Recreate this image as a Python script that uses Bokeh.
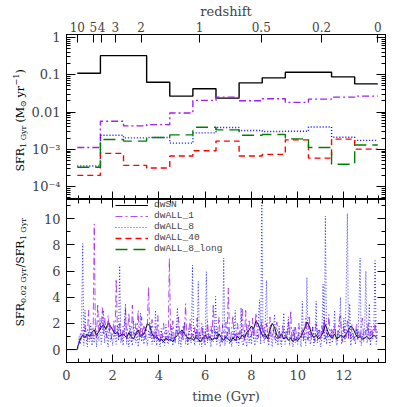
import numpy as np
from bokeh.plotting import figure
from bokeh.models import FixedTicker, LinearAxis, LogAxis, Legend, LegendItem, Range1d
from bokeh.core.properties import value
from bokeh.layouts import column, row
from bokeh.embed import file_html
from bokeh.resources import INLINE

# ---------------- cosmology for the redshift axis (flat LCDM) ----------------
H0 = 70.0
OM = 0.3
OL = 0.7


def age_gyr(z):
    pref = 977.8 / H0 * 2.0 / (3.0 * np.sqrt(OL))
    return float(pref * np.arcsinh(np.sqrt(OL / OM) * (1.0 + float(z)) ** -1.5))


T0 = age_gyr(0.0)
z_ticks = [10, 5, 4, 3, 2, 1, 0.5, 0.2, 0]
z_labels = ["10", "5", "4", "3", "2", "1", "0.5", "0.2", "0"]

# ---------------- top panel: SFR averaged over 1 Gyr bins ----------------
lookback_edges = [13, 12, 11, 10, 9, 8, 7, 6, 5, 4, 3, 2, 1, 0]
sfr_dwSN = [0.11, 0.325, 0.325, 0.063, 0.0267, 0.042, 0.0236, 0.0607, 0.0826, 0.117, 0.117, 0.0877, 0.057]
sfr_dwALL_1 = [1.12e-3, 5.65e-3, 4.24e-3, 4.6e-3, 9.4e-3, 0.0205, 0.0251, 0.0201, 0.0227, 0.0181, 0.0222, 0.0251, 0.0267]
sfr_dwALL_8 = [3.56e-4, 2.39e-3, 2.03e-3, 2.07e-3, 1.46e-3, 2.75e-3, 3.84e-3, 3.19e-3, 3.0e-3, 3.06e-3, 3.98e-3, 2.11e-3, 1.73e-3]
sfr_dwALL_40 = [2.0e-4, 7.76e-4, 3.7e-4, 3.15e-4, 6.6e-4, 9.1e-4, 1.66e-3, 6.6e-4, 7.3e-4, 1.79e-3, 5.8e-4, 1.87e-3, 1.01e-3]
sfr_dwALL_8_long = [3.3e-4, 1.84e-3, 1.66e-3, 2.07e-3, 2.44e-3, 3.9e-3, 3.31e-3, 2.39e-3, 2.49e-3, 1.9e-3, 1.12e-3, 3.96e-4, 1.3e-3]

# ---------------- bottom panel: SFR_0.02Gyr / SFR_1Gyr ----------------
t_start = [0.0, 0.46]
ratio_start = [0.0, 0.0]
ratio_dwSN = [
    0.3, 0.8, 1.1, 0.9, 1.2, 1.0, 1.3, 1.5, 1.1, 1.4,
    1.7, 1.9, 1.6, 2.0, 1.8, 1.5, 1.2, 1.3, 1.0, 1.2,
    1.1, 0.9, 1.3, 1.0, 0.8, 1.2, 1.5, 1.0, 1.1, 1.4,
    2.0, 1.8, 1.2, 0.9, 1.0, 0.7, 0.8, 0.6, 0.9, 0.7,
    0.8, 0.6, 0.9, 1.1, 1.3, 1.5, 1.2, 1.0, 0.8, 0.9,
    0.7, 1.0, 0.8, 0.6, 0.9, 1.1, 0.8, 1.0, 0.7, 0.9,
    0.8, 1.2, 0.9, 0.7, 1.0, 0.8, 0.6, 0.9, 0.7, 1.0,
    0.8, 1.1, 0.9, 1.3, 1.5, 1.8, 1.6, 2.2, 1.9, 1.4,
    1.0, 1.2, 0.8, 1.5, 2.0, 1.7, 1.1, 0.9, 1.2, 0.8,
    1.0, 0.7, 0.9, 0.6, 0.8, 0.7, 0.9, 1.2, 1.6, 2.1,
    1.8, 1.2, 0.9, 1.1, 0.8, 1.0, 1.3, 1.9, 1.4, 1.0,
    0.9, 1.2, 0.8, 1.0, 1.1, 0.9, 1.2, 1.5, 1.8, 1.6,
    1.2, 0.9, 1.0, 0.8, 0.9, 1.0, 0.8, 0.9, 1.1, 0.9,
]
ratio_dwALL_1 = [
    0.2, 0.6, 1.2, 0.8, 1.5, 0.9, 1.8, 1.1, 0.7, 3.0, 1.2, 0.8, 1.6, 1.0, 9.6, 1.4, 0.9, 3.5, 1.3, 2.0,
    1.5, 3.2, 1.1, 2.4, 1.7, 0.9, 2.6, 1.3, 1.9, 0.8, 1.4, 2.2, 1.0, 5.4, 1.6, 0.9, 2.1, 1.2, 0.7, 1.8,
    1.1, 3.1, 0.8, 1.6, 2.8, 1.0, 0.6, 3.4, 1.3, 0.9, 2.0, 1.2, 3.0, 0.7, 1.5, 2.5, 1.0, 1.8, 0.8, 1.3,
    2.0, 4.8, 1.4, 0.9, 2.3, 1.1, 0.6, 1.7, 0.8, 2.6, 1.2, 0.5, 1.4, 0.9, 2.0, 1.1, 0.7, 1.3, 0.8, 7.0,
    1.5, 0.8, 2.2, 1.0, 0.6, 1.8, 1.2, 2.5, 0.9, 1.4, 0.7, 1.9, 1.1, 3.5, 1.0, 0.6, 1.6, 2.3, 0.9, 1.2,
    0.8, 1.7, 1.0, 2.4, 0.6, 1.3, 0.9, 2.0, 1.1, 0.5, 1.5, 0.8, 2.2, 1.0, 0.7, 1.8, 1.2, 3.5, 0.9, 1.4,
    0.7, 1.6, 2.5, 1.0, 0.6, 1.9, 1.2, 0.8, 2.1, 1.1, 4.7, 1.3, 0.7, 1.7, 2.6, 0.9, 1.2, 0.6, 2.0, 1.0,
    1.4, 0.8, 3.2, 1.1, 0.7, 3.0, 1.3, 0.9, 2.2, 1.5, 1.0, 2.4, 0.8, 1.6, 2.8, 1.2, 0.9, 1.8, 1.1, 2.3,
    1.0, 1.7, 0.8, 2.0, 1.3, 0.6, 2.5, 1.1, 0.9, 1.6, 0.7, 1.2, 2.1, 0.8, 1.5, 1.0, 0.6, 1.9, 1.2, 0.8,
    1.4, 0.9, 2.2, 1.1, 3.0, 0.8, 1.5, 0.6, 1.8, 1.0, 0.7, 2.0, 1.2, 0.9, 1.6, 0.8, 1.3, 2.4, 1.0, 0.7,
    2.6, 1.2, 0.8, 1.7, 1.0, 0.6, 2.1, 1.3, 0.9, 1.5, 0.7, 1.9, 1.1, 2.5, 0.8, 1.4, 1.0, 2.7, 1.2, 0.9,
    1.6, 0.8, 2.0, 1.1, 0.7, 1.4, 2.3, 2.7, 1.0, 0.6, 1.8, 1.2, 0.9, 2.2, 1.0, 1.5, 0.8, 1.9, 1.3, 0.7,
    1.2, 2.0, 0.9, 1.4, 0.6, 1.7, 2.4, 1.0, 0.8, 1.5, 1.1, 2.1, 0.7, 1.3, 1.8, 0.9, 1.2, 2.2, 1.0, 1.4,
]
ratio_dwALL_8 = [
    0.1, 1.0, 0.4, 1.6, 8.1, 0.3, 3.0, 0.9, 0.2, 1.4, 0.6, 2.0, 0.3, 1.1, 0.5, 1.8, 0.2, 1.2, 0.7, 2.4,
    0.4, 1.3, 3.0, 0.5, 1.7, 0.8, 0.2, 2.1, 0.6, 1.0, 0.3, 1.5, 0.9, 0.4, 1.9, 0.7, 6.4, 0.5, 1.2, 0.3,
    1.6, 3.5, 0.4, 1.1, 0.2, 1.8, 0.7, 0.3, 2.2, 0.9, 0.5, 1.4, 0.2, 1.0, 2.8, 0.6, 1.3, 0.4, 1.7, 0.8,
    0.3, 1.5, 0.9, 2.0, 0.4, 1.2, 0.6, 3.0, 0.3, 1.1, 0.8, 0.2, 1.6, 0.5, 1.0, 0.3, 1.9, 0.7, 0.4, 1.3,
    0.6, 1.8, 0.3, 1.0, 0.5, 1.4, 3.2, 0.4, 0.9, 0.2, 1.5, 0.7, 2.1, 0.4, 1.1, 0.3, 1.6, 0.8, 0.5, 6.45,
    0.9, 0.3, 1.4, 0.6, 5.2, 0.4, 1.2, 0.2, 1.8, 0.7, 0.3, 5.95, 0.5, 1.3, 0.8, 0.2, 1.5, 0.6, 1.0, 4.05,
    0.4, 1.6, 0.7, 0.2, 1.3, 0.5, 7.0, 0.3, 1.1, 0.6, 1.7, 0.4, 0.9, 0.2, 1.4, 0.7, 3.0, 0.5, 1.2, 0.3,
    1.0, 3.2, 0.6, 0.3, 1.5, 0.8, 0.2, 1.9, 0.5, 1.1, 0.4, 1.7, 0.9, 0.3, 1.3, 0.6, 2.2, 3.8, 0.4, 11.8,
    1.2, 0.5, 2.0, 5.3, 0.7, 0.3, 1.4, 0.9, 0.2, 1.6, 2.7, 0.5, 1.0, 0.3, 1.8, 0.6, 0.2, 1.2, 2.8, 0.4,
    0.8, 1.5, 2.5, 0.3, 1.1, 0.6, 0.2, 1.7, 0.5, 1.0, 0.4, 1.3, 0.7, 0.2, 3.7, 0.6, 1.2, 0.3, 5.5, 0.8,
    1.4, 0.4, 0.9, 1.8, 0.3, 1.1, 3.7, 0.5, 1.5, 0.7, 0.2, 1.0, 5.0, 0.6, 10.2, 0.4, 1.3, 0.8, 0.3, 1.6,
    0.5, 1.2, 3.0, 0.7, 0.3, 1.5, 0.9, 4.0, 0.4, 1.1, 2.4, 0.6, 4.5, 10.4, 0.8, 3.5, 0.3, 1.4, 0.7, 1.0,
    0.4, 1.6, 0.7, 3.0, 7.0, 0.3, 1.2, 0.6, 1.8, 6.0, 0.5, 1.0, 3.5, 0.3, 1.4, 0.8, 2.2, 6.8, 0.4, 1.1,
]

series_names = ["dwSN", "dwALL_1", "dwALL_8", "dwALL_40", "dwALL_8_long"]
colors = ["black", "#a020f0", "#0000ff", "#ff0000", "#008000"]
dashes = ["solid", "7 3 2 3", "1 2", "6 4", "12 6"]

SERIF = "DejaVu Serif"
XMAX = 13.8

# ---------------- derived positions ----------------
edges = [T0 - lb for lb in lookback_edges]
t_black = t_start + [0.5 + 0.1 * i for i in range(len(ratio_dwSN))]
t_fine = t_start + [0.5 + 0.05 * i for i in range(len(ratio_dwALL_1))]

x_major = [0, 2, 4, 6, 8, 10, 12]
x_minor = [0.5 * i for i in range(0, 28)]

TITLE_W = 28  # width of the column holding the rotated titles
LEFT = 35     # px from the title column to the frames
RIGHT = 13
W = 370
H1 = 199      # top figure (33 px border + 166 px frame)
H2 = 207      # bottom figure (164 px frame + 43 px border)


def style_axis(ax, ticks, minor, major_in=8, minor_in=4, labels=True, size="13px",
               standoff=6):
    ax.ticker = FixedTicker(ticks=ticks, minor_ticks=minor)
    ax.major_tick_in = major_in
    ax.major_tick_out = 0
    ax.minor_tick_in = minor_in
    ax.minor_tick_out = 0
    ax.axis_line_color = "black"
    ax.major_tick_line_color = "black"
    ax.minor_tick_line_color = "black" if minor_in else None
    ax.major_label_text_font = SERIF
    if labels:
        ax.major_label_text_font_size = size
        ax.major_label_standoff = standoff
    else:
        ax.major_label_overrides = {t: "" for t in ticks}
        ax.major_label_text_font_size = "1px"
        ax.major_label_standoff = 0


def bare(fig):
    fig.grid.visible = False
    fig.outline_line_color = None
    fig.background_fill_color = "white"
    fig.border_fill_color = "white"


# ---------------- top figure ----------------
p1 = figure(width=W, height=H1, output_backend="svg", toolbar_location=None,
            y_axis_type="log", x_axis_location="above",
            x_range=Range1d(0, XMAX), y_range=Range1d(10 ** -4.347, 10 ** 0.08),
            min_border_left=LEFT, min_border_right=RIGHT, min_border_top=33, min_border_bottom=0)
bare(p1)
p1.outline_line_color = "black"

zt = [round(age_gyr(z), 4) for z in z_ticks]
top_ax = p1.xaxis[0]
style_axis(top_ax, zt, [], major_in=8, minor_in=0, size="12px", standoff=3)
top_ax.major_label_overrides = {t: lab for t, lab in zip(zt, z_labels)}
top_ax.axis_label = "redshift"
top_ax.axis_label_text_font = SERIF
top_ax.axis_label_text_font_size = "13px"
top_ax.axis_label_text_font_style = "normal"
top_ax.axis_label_standoff = 0

log_major = [1e-4, 1e-3, 1e-2, 1e-1, 1.0]
log_minor = [k * 10.0 ** e for e in range(-5, 1) for k in range(2, 10)]
lab_over = {1e-4: "10⁻⁴", 1e-3: "10⁻³", 1e-2: "0.01", 1e-1: "0.1", 1.0: "1"}
ly = p1.yaxis[0]
style_axis(ly, log_major, log_minor, major_in=9, minor_in=4, standoff=6)
ly.major_label_overrides = lab_over

ry = LogAxis()
style_axis(ry, log_major, log_minor, major_in=9, minor_in=4, labels=False)
p1.add_layout(ry, "right")

bx1 = LinearAxis()
style_axis(bx1, x_major, x_minor, labels=False)
p1.add_layout(bx1, "below")

top_series = [sfr_dwSN, sfr_dwALL_1, sfr_dwALL_8, sfr_dwALL_40, sfr_dwALL_8_long]
for vals, c, d in zip(top_series, colors, dashes):
    p1.step(x=edges, y=list(vals) + [vals[-1]], mode="after", line_color=c,
            line_dash=d, line_width=1.4)

# ---------------- bottom figure ----------------
p2 = figure(width=W, height=H2, output_backend="svg", toolbar_location=None,
            x_range=Range1d(0, XMAX), y_range=Range1d(-0.99, 11.47),
            min_border_left=LEFT, min_border_right=RIGHT, min_border_top=0, min_border_bottom=43)
bare(p2)
p2.outline_line_color = "black"

bx = p2.xaxis[0]
style_axis(bx, x_major, x_minor, standoff=7)
bx.axis_label = "time (Gyr)"
bx.axis_label_text_font = SERIF
bx.axis_label_text_font_size = "13px"
bx.axis_label_text_font_style = "normal"
bx.axis_label_standoff = 6

tx = LinearAxis()
style_axis(tx, x_major, x_minor, labels=False)
p2.add_layout(tx, "above")

y_major = [0, 2, 4, 6, 8, 10]
y_minor = list(range(-1, 12))
by = p2.yaxis[0]
style_axis(by, y_major, y_minor, standoff=6)

ry2 = LinearAxis()
style_axis(ry2, y_major, y_minor, labels=False)
p2.add_layout(ry2, "right")

r_sn = p2.line(t_black, ratio_start + ratio_dwSN, line_color=colors[0], line_width=1.0)
r_a1 = p2.line(t_fine, ratio_start + ratio_dwALL_1, line_color=colors[1], line_dash=dashes[1],
               line_width=1.0, line_alpha=0.8)
r_a8 = p2.line(t_fine, ratio_start + ratio_dwALL_8, line_color=colors[2], line_dash=dashes[2],
               line_width=1.0, line_alpha=0.8)
# no ratio curve is shown for these two runs; one empty (NaN) point keeps their legend swatch
r_a40 = p2.line(x=[np.nan], y=[np.nan], line_color=colors[3], line_dash=dashes[3], line_width=1.4)
r_a8l = p2.line(x=[np.nan], y=[np.nan], line_color=colors[4], line_dash=dashes[4], line_width=1.4)

legend = Legend(items=[LegendItem(label=n, renderers=[r]) for n, r in
                       zip(series_names, [r_sn, r_a1, r_a8, r_a40, r_a8l])],
                location=(49, 108))
legend.border_line_color = None
legend.background_fill_alpha = 0
legend.label_text_font = "Liberation Mono"
legend.label_text_font_size = "9.5px"
legend.glyph_width = 33
legend.glyph_height = 10
legend.label_height = 10
legend.label_standoff = 6
legend.spacing = 0
legend.padding = 0
legend.margin = 0
p2.add_layout(legend)

# ---------------- left column with the rotated axis titles ----------------
TOTAL_H = H1 + H2
tit = figure(width=TITLE_W, height=TOTAL_H, output_backend="svg", toolbar_location=None,
             x_range=Range1d(0, TITLE_W), y_range=Range1d(0, TOTAL_H),
             x_axis_location=None, y_axis_location=None,
             min_border_left=0, min_border_right=0, min_border_top=0, min_border_bottom=0)
bare(tit)


def vtitle(fig, pieces, x0, y0):
    y = y0
    for text, size, dx, adv in pieces:
        fig.text(x=[x0 + dx], y=[y], text=[text], angle=np.pi / 2, text_align="left",
                 text_baseline="middle", text_font=value(SERIF),
                 text_font_size=value(f"{size}px"), text_color="black")
        y += adv


# title-figure y = TOTAL_H - page_y
vtitle(tit, [("SFR", 11, 0, 23.5), ("1 Gyr", 8, 3, 25.5), ("(M", 11, 0, 15.3), ("⊙", 8, 3, 9.7),
             ("yr", 11, 0, 12), ("−1", 8, -4, 12), (")", 11, 0, 5)], 20, TOTAL_H - 171)
vtitle(tit, [("SFR", 11, 0, 23.5), ("0.02 Gyr", 8, 3, 35.5), ("/SFR", 11, 0, 27.2),
             ("1 Gyr", 8, 3, 23)], 20, TOTAL_H - 326)

layout = row(tit, column(p1, p2, spacing=0), spacing=0)
open("out.html", "w").write(file_html(layout, INLINE))
